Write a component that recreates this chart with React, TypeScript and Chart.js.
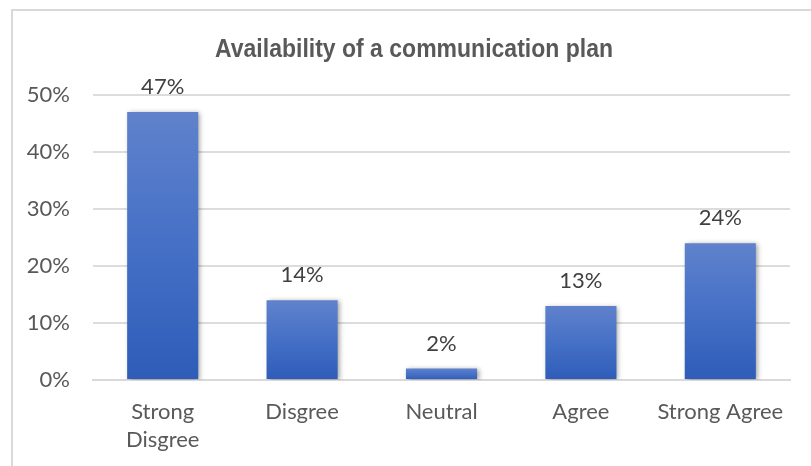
import React, { useEffect, useRef } from "react";
import { Chart, registerables } from "chart.js";

Chart.register(...registerables);

const categories: (string | string[])[] = [["Strong", "Disgree"], "Disgree", "Neutral", "Agree", "Strong Agree"];
const values: number[] = [47, 14, 2, 13, 24];
const yTicks: number[] = [0, 10, 20, 30, 40, 50];
const titleText = "Availability of a communication plan";

const TEXT_FONT = "Lato, 'Open Sans', sans-serif";

const titlePlugin = {
  id: "narrowTitle",
  afterDraw(chart: any) {
    const ctx = chart.ctx;
    ctx.save();
    ctx.font = "bold 25px 'Liberation Sans', Arial, sans-serif";
    ctx.fillStyle = "#595959";
    ctx.textAlign = "center";
    ctx.textBaseline = "alphabetic";
    const w = ctx.measureText(titleText).width;
    const sx = 398 / w;
    ctx.translate(414, 57);
    ctx.scale(sx, 1);
    ctx.fillText(titleText, 0, 0);
    ctx.restore();
  },
};

const shadowPlugin = {
  id: "barShadow",
  beforeDatasetsDraw(chart: any) {
    const ctx = chart.ctx;
    ctx.save();
    ctx.shadowColor = "rgba(0,0,0,0.38)";
    ctx.shadowBlur = 5;
    ctx.shadowOffsetX = 2;
    ctx.shadowOffsetY = 1;
  },
  afterDatasetsDraw(chart: any) {
    chart.ctx.restore();
  },
};

const labelPlugin = {
  id: "barLabels",
  afterDatasetsDraw(chart: any) {
    const ctx = chart.ctx;
    const meta = chart.getDatasetMeta(0);
    ctx.save();
    ctx.font = `22px ${TEXT_FONT}`;
    ctx.fillStyle = "#404040";
    ctx.textAlign = "center";
    ctx.textBaseline = "middle";
    meta.data.forEach((bar: any, i: number) => {
      ctx.fillText(`${values[i]}%`, bar.x, bar.y - 25);
    });
    ctx.restore();
  },
};

export default function App() {
  const canvasRef = useRef<HTMLCanvasElement | null>(null);

  useEffect(() => {
    const canvas = canvasRef.current;
    if (!canvas) return;
    const chart = new Chart(canvas, {
      type: "bar",
      data: {
        labels: categories,
        datasets: [
          {
            data: values,
            backgroundColor: (c: any) => {
              const ch = c.chart;
              if (!ch.chartArea || c.raw === undefined) return "#4472c4";
              const y = ch.scales.y;
              const top = y.getPixelForValue(c.raw);
              const bottom = y.getPixelForValue(0);
              const g = ch.ctx.createLinearGradient(0, top, 0, bottom);
              g.addColorStop(0, "#6082cc");
              g.addColorStop(0.5, "#4570c6");
              g.addColorStop(1, "#2e5cb8");
              return g;
            },
            borderWidth: 0,
            barPercentage: 0.51,
            categoryPercentage: 1,
          },
        ],
      },
      options: {
        responsive: false,
        animation: false,
        devicePixelRatio: 1,
        layout: { padding: { top: 95, right: 21, bottom: 0, left: 0 } },
        plugins: {
          legend: { display: false },
          tooltip: { enabled: false },
          title: { display: false },
        },
        scales: {
          x: {
            grid: { display: false, drawTicks: false },
            border: { display: true, color: "#d9d9d9", width: 2 },
            ticks: {
              color: "#595959",
              padding: 18,
              font: { family: TEXT_FONT, size: 22, lineHeight: 28 / 22 },
              maxRotation: 0,
              autoSkip: false,
            },
            afterFit(scale: any) {
              scale.height = 86;
            },
          },
          y: {
            min: 0,
            max: 50,
            grid: { color: "#dcdcdc", lineWidth: 2, drawTicks: false },
            border: { display: false },
            afterBuildTicks(scale: any) {
              scale.ticks = yTicks.map((v) => ({ value: v }));
            },
            ticks: {
              color: "#595959",
              padding: 23,
              font: { family: TEXT_FONT, size: 22 },
              callback: (v: any) => `${v}%`,
            },
            afterFit(scale: any) {
              scale.width = 93;
            },
          },
        },
      },
      plugins: [shadowPlugin, labelPlugin, titlePlugin],
    } as any);
    return () => chart.destroy();
  }, []);

  return (
    <div
      style={{
        position: "fixed",
        left: 0,
        top: 0,
        width: 811,
        height: 466,
        overflow: "hidden",
        background: "#ffffff",
      }}
    >
      <div
        style={{
          position: "absolute",
          left: 11,
          top: 9,
          width: 900,
          height: 600,
          borderLeft: "2px solid #d9d9d9",
          borderTop: "2px solid #d9d9d9",
        }}
      />
      <canvas
        ref={canvasRef}
        width={811}
        height={466}
        style={{ position: "absolute", left: 0, top: 0, width: 811, height: 466 }}
      />
    </div>
  );
}
